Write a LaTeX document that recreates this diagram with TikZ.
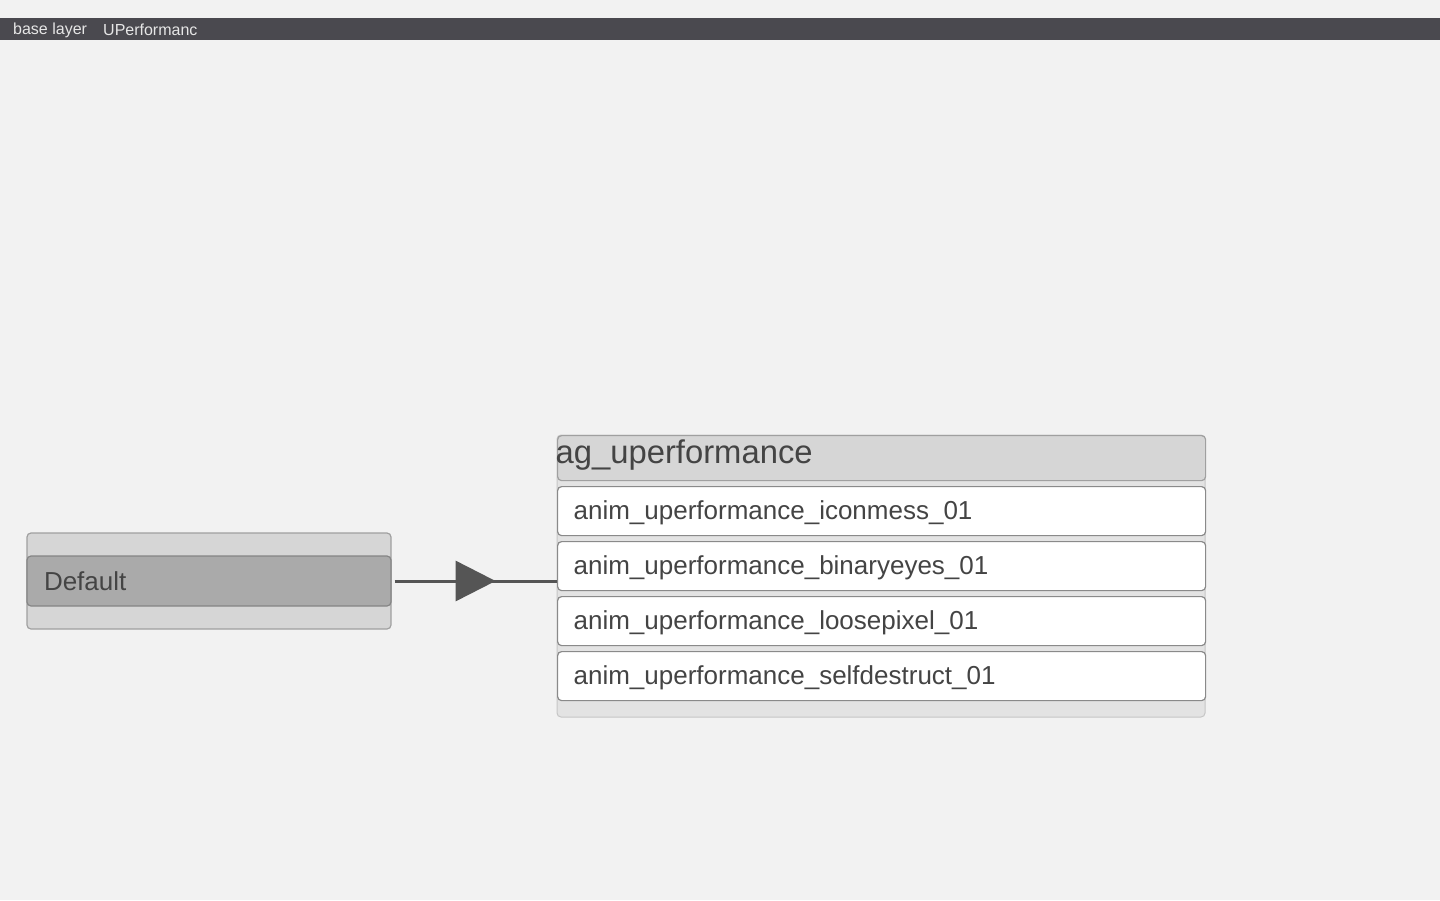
\documentclass[tikz,border=0pt]{standalone}
\usepackage{fontspec}
\setmainfont{Liberation Sans}
\usetikzlibrary{arrows.meta,decorations.markings}
\definecolor{canvas}{HTML}{F2F2F2}
\definecolor{barcol}{HTML}{4A494F}
\definecolor{bartext}{HTML}{E6E6E6}
\definecolor{panel}{HTML}{D6D6D6}
\definecolor{panelline}{HTML}{A0A0A0}
\definecolor{statefill}{HTML}{AAAAAA}
\definecolor{stateline}{HTML}{858585}
\definecolor{wire}{HTML}{555555}
\definecolor{textcol}{HTML}{444444}
\definecolor{rowline}{HTML}{8A8A8A}
\definecolor{footfill}{HTML}{E3E3E3}
\begin{document}
\begin{tikzpicture}[x=1pt,y=-1pt,
    bartxt/.style={anchor=west,text=bartext,font=\fontsize{16}{16}\selectfont,inner sep=0pt},
    statebox/.style={draw=stateline,fill=statefill,rounded corners=4pt,line width=1.2pt,
      minimum width=364pt,minimum height=50pt,text width=330pt,inner xsep=17pt,
      align=left,text=textcol,font=\fontsize{26}{26}\selectfont},
    animbox/.style={draw=rowline,fill=white,rounded corners=4pt,line width=1.2pt,anchor=north west,
      minimum width=648pt,minimum height=49pt,text width=616pt,inner xsep=16pt,
      text height=21pt,text depth=4pt,
      align=left,text=textcol,font=\fontsize{26}{26}\selectfont},
    wireline/.style={draw=wire,line width=3pt,
      postaction={decorate,decoration={markings,mark=at position 0.622 with
        {\arrow[wire]{Triangle[length=40pt,width=40pt]}}}}}]
  \useasboundingbox[fill=canvas] (0,0) rectangle (1440,900);

  % top bar
  \fill[barcol] (0,18) rectangle (1440,40);
  \node [bartxt] (layer) at (13,30) {base layer};
  \node [bartxt] (crumb) at (103,30) {UPerformanc};

  % state on the left
  \draw[panelline,fill=panel,rounded corners=4pt,line width=1.2pt] (27,533) rectangle (391,629);
  \node [statebox] (default) at (209,581) {Default};

  % group on the right
  \draw[panelline!60,fill=footfill,rounded corners=4pt,line width=1pt] (557,435) rectangle (1205,717);
  \node [animbox,fill=panel,draw=panelline,minimum height=45pt,text width=652pt,inner xsep=-2pt,
    text height=21pt,text depth=10pt,font=\fontsize{32.8}{32.8}\selectfont] (group) at (557,435) {ag\_uperformance};
  \node [animbox] (iconmess) at (557,486) {anim\_uperformance\_iconmess\_01};
  \node [animbox] (binaryeyes) at (557,541) {anim\_uperformance\_binaryeyes\_01};
  \node [animbox] (loosepixel) at (557,596) {anim\_uperformance\_loosepixel\_01};
  \node [animbox] (selfdestruct) at (557,651) {anim\_uperformance\_selfdestruct\_01};

  \path[wireline] ([xshift=3pt]default.east) -- (default.east -| binaryeyes.west);
\end{tikzpicture}
\end{document}
